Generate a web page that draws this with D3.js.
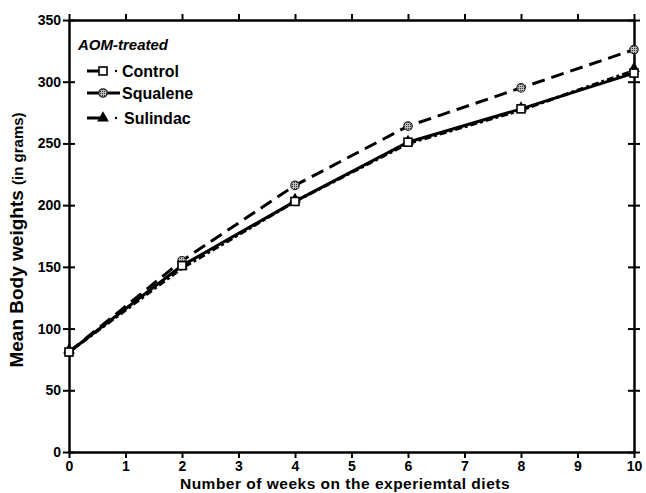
<!DOCTYPE html>
<html>
<head>
<meta charset="utf-8">
<script src="https://cdn.jsdelivr.net/npm/d3@7"></script>
<style>
  body { margin: 0; background: #fff; }
  svg { font-family: "Liberation Sans", Arial, sans-serif; font-weight: bold; }
</style>
</head>
<body>
<div id="chart"></div>
<script>
const weeks = [0, 2, 4, 6, 8, 10];
const control = [81, 151, 203, 251, 278, 307];
const squalene = [81, 155, 216, 264, 295, 326];
const sulindac = [81, 149, 203, 250, 277, 309];
const xTicks = [0, 1, 2, 3, 4, 5, 6, 7, 8, 9, 10];
const yTicks = [0, 50, 100, 150, 200, 250, 300, 350];
const seriesNames = ["Control", "Squalene", "Sulindac"];

const w = 646, h = 493;
const padL = 69, padR = 634, padT = 20, padB = 452;

const svg = d3.select("#chart").append("svg")
  .attr("width", w).attr("height", h);

const xScale = d3.scaleLinear().domain([0, 10]).range([padL, padR]);
const yScale = d3.scaleLinear().domain([0, 350]).range([padB, padT]);

// hatch for the squalene dots
svg.append("defs").append("pattern")
  .attr("id", "hatch").attr("width", 2).attr("height", 2)
  .attr("patternUnits", "userSpaceOnUse")
  .call(p => {
    p.append("rect").attr("width", 2).attr("height", 2).attr("fill", "#bbb");
    p.append("rect").attr("width", 1).attr("height", 1).attr("fill", "#333");
  });

// axes
const axisStyle = g => {
  g.select(".domain").attr("stroke", "#000").attr("stroke-width", 2.5);
  g.selectAll(".tick line").attr("stroke", "#000").attr("stroke-width", 2);
};

svg.append("g")
  .attr("transform", "translate(0," + padB + ")")
  .call(d3.axisBottom(xScale).tickValues(xTicks).tickSize(6).tickSizeOuter(0).tickPadding(3))
  .call(axisStyle)
  .call(g => g.selectAll("text").attr("font-size", 14).attr("fill", "#000"));

svg.append("g")
  .attr("transform", "translate(0," + padT + ")")
  .call(d3.axisTop(xScale).tickValues(xTicks).tickSize(6).tickSizeOuter(0).tickFormat(""))
  .call(axisStyle);

svg.append("g")
  .attr("transform", "translate(" + padL + ",0)")
  .call(d3.axisLeft(yScale).tickValues(yTicks).tickSizeInner(6).tickSizeOuter(0).tickPadding(2))
  .call(axisStyle)
  .call(g => g.selectAll(".tick line").attr("x2", 6).attr("x1", -6))
  .call(g => g.selectAll("text").attr("font-size", 14).attr("fill", "#000"));

svg.append("g")
  .attr("transform", "translate(" + padR + ",0)")
  .call(d3.axisRight(yScale).tickValues(yTicks).tickSizeOuter(0).tickFormat(""))
  .call(axisStyle)
  .call(g => g.selectAll(".tick line").attr("x1", -6).attr("x2", 6));

// axis titles
svg.append("text")
  .attr("x", 345)
  .attr("y", 489)
  .attr("text-anchor", "middle")
  .attr("font-size", 15.5)
  .attr("letter-spacing", 0.5)
  .text("Number of weeks on the experiemtal diets");

const yt = svg.append("text")
  .attr("transform", "translate(23," + ((padT + padB) / 2 + 4) + ") rotate(-90)")
  .attr("text-anchor", "middle");
yt.append("tspan").attr("font-size", 19).text("Mean Body weights ");
yt.append("tspan").attr("font-size", 15).text("(in grams)");

// lines
const line = vals => d3.line()
  .x((d, i) => xScale(weeks[i]))
  .y(d => yScale(d))(vals);

svg.append("path").attr("d", line(sulindac))
  .attr("fill", "none").attr("stroke", "#000").attr("stroke-width", 3.2)
  .attr("stroke-dasharray", "7,3,3,3");

svg.append("path").attr("d", line(squalene))
  .attr("fill", "none").attr("stroke", "#000").attr("stroke-width", 3)
  .attr("stroke-dasharray", "13,7");

svg.append("path").attr("d", line(control))
  .attr("fill", "none").attr("stroke", "#000").attr("stroke-width", 3);

// markers
const tri = d3.symbol().type(d3.symbolTriangle).size(60);
svg.selectAll(".sul").data(sulindac).enter().append("path")
  .attr("transform", (d, i) => "translate(" + xScale(weeks[i]) + "," + (yScale(d) - 2) + ")")
  .attr("d", tri).attr("fill", "#000");

svg.selectAll(".squ").data(squalene).enter().append("circle")
  .attr("cx", (d, i) => xScale(weeks[i]))
  .attr("cy", d => yScale(d))
  .attr("r", 4.2).attr("fill", "url(#hatch)").attr("stroke", "#222").attr("stroke-width", 1.2);

svg.selectAll(".con").data(control).enter().append("rect")
  .attr("x", (d, i) => xScale(weeks[i]) - 4)
  .attr("y", d => yScale(d) - 4)
  .attr("width", 8).attr("height", 8)
  .attr("fill", "#fff").attr("stroke", "#000").attr("stroke-width", 1.6);

// legend
svg.append("text")
  .attr("x", 78).attr("y", 50)
  .attr("font-size", 15).attr("font-style", "italic")
  .text("AOM-treated");

const legY = [71, 93, 118];
const leg = svg.selectAll(".leg").data(seriesNames).enter().append("g")
  .attr("transform", (d, i) => "translate(0," + legY[i] + ")");

leg.append("line").attr("x1", 87).attr("x2", 103).attr("y1", 0).attr("y2", 0)
  .attr("stroke", "#000").attr("stroke-width", 3);
leg.filter((d, i) => i !== 1).append("circle")
  .attr("cx", 116).attr("cy", 0).attr("r", 1.2).attr("fill", "#000");
leg.filter((d, i) => i === 1).append("line")
  .attr("x1", 103).attr("x2", 120).attr("y1", 0).attr("y2", 0)
  .attr("stroke", "#000").attr("stroke-width", 3);

leg.filter((d, i) => i === 0).append("rect")
  .attr("x", 99).attr("y", -4).attr("width", 8).attr("height", 8)
  .attr("fill", "#fff").attr("stroke", "#000").attr("stroke-width", 1.6);
leg.filter((d, i) => i === 1).append("circle")
  .attr("cx", 103).attr("cy", 0).attr("r", 4.2)
  .attr("fill", "url(#hatch)").attr("stroke", "#222").attr("stroke-width", 1.2);
leg.filter((d, i) => i === 2).append("path")
  .attr("transform", "translate(103,0)").attr("d", tri).attr("fill", "#000");

leg.append("text").attr("x", (d, i) => i === 2 ? 124 : 122).attr("y", 5.5)
  .attr("font-size", 16).text(d => d);
</script>
</body>
</html>
